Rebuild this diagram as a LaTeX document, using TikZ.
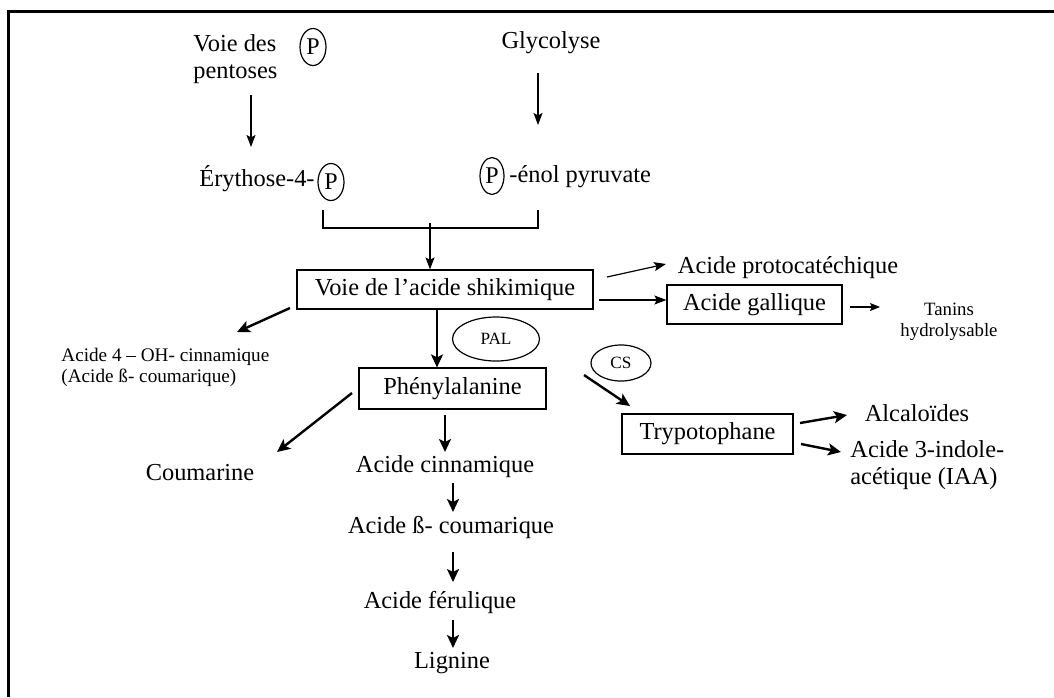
\documentclass[tikz,border=0pt]{standalone}
\usepackage{fontspec}
\setmainfont{Liberation Serif}
\usetikzlibrary{arrows.meta,shapes.geometric}
\begin{document}
\begin{tikzpicture}[x=0.5pt,y=-0.5pt,
  txt/.style={inner sep=0pt,font=\fontsize{12.2}{13.5}\selectfont},
  small/.style={inner sep=0pt,font=\fontsize{9.6}{10.5}\selectfont},
  boxnode/.style={draw,line width=0.6pt,inner sep=0pt,font=\fontsize{12.2}{13.5}\selectfont},
  pcirc/.style={draw,ellipse,line width=0.6pt,inner sep=0pt,minimum width=13pt,minimum height=18.5pt,font=\fontsize{12}{13}\selectfont},
  enz/.style={draw,ellipse,line width=0.6pt,inner sep=0pt,font=\fontsize{8.6}{10}\selectfont},
  thinarr/.style={line width=0.6pt,-{Stealth[length=6pt,width=4.5pt,inset=1.2pt]}},
  thickarr/.style={line width=1.2pt,-{Stealth[length=6.5pt,width=6pt,inset=1.5pt]}},
  frame/.style={line width=1.5pt}]
\useasboundingbox (0,0) rectangle (1054,697);
% frame
\coordinate (ftl) at (8,11);
\coordinate (ftr) at (1054,11);
\coordinate (fbl) at (8,697);
\draw[frame] (ftr) -- (ftl) -- (fbl);

% top part
\node[txt,align=left,anchor=west] (pent) at (193,59) {Voie des\\pentoses};
\node[pcirc] (p1) at (313,47) {P};
\node[txt] (glyc) at (551,43) {Glycolyse};
\node[txt,anchor=east] (ery) at (315,179) {Érythose-4-};
\node[pcirc] (p2) at (331,182) {P};
\node[pcirc,minimum width=12pt] (p3) at (492,176) {P};
\node[txt,anchor=west] (enol) at (509,177) {-énol pyruvate};

\coordinate (a1s) at (251,95);
\coordinate (a1e) at (251,147);
\draw[thinarr] (a1s) -- (a1e);
\coordinate (a2s) at (538,73);
\coordinate (a2e) at (538,125);
\draw[thinarr] (a2s) -- (a2e);

% bracket
\coordinate (bl) at (323,210);
\coordinate (br) at (538,210);
\coordinate (bm) at (430,228);
\coordinate (bt) at (430,223);
\draw[line width=0.6pt] (bl) -- (bl |- bm) -- (br |- bm) -- (br);

% shikimique
\node[boxnode,minimum width=148pt,minimum height=19.5pt] (shik) at (445,289.5) {Voie de l’acide shikimique};
\draw[thinarr] (bt) -- (bt |- shik.north);

\node[txt] (proto) at (788,268) {Acide protocatéchique};
\node[boxnode,minimum width=87.5pt,minimum height=19.5pt] (gall) at (754.5,304.5) {Acide gallique};
\node[small,align=center,font=\fontsize{9.4}{10.5}\selectfont] (tan) at (949,322) {Tanins\\hydrolysable};

\coordinate (a3s) at (607,277);
\coordinate (a3e) at (666,264);
\draw[thinarr] (a3s) -- (a3e);
\coordinate (a4s) at (599,300);
\draw[thinarr] (a4s) -- (a4s -| gall.west);
\coordinate (a5s) at (850,307);
\coordinate (a5e) at (880,307);
\draw[line width=0.6pt,-{Stealth[length=5pt,width=4pt,inset=1pt]}] (a5s) -- (a5e);

% left branch
\node[small,align=left,anchor=west] (c4) at (61,367) {Acide 4 – OH- cinnamique\\(Acide ß- coumarique)};
\coordinate (a6s) at (290,308);
\coordinate (a6e) at (237,332);
\draw[thickarr] (a6s) -- (a6e);

% PAL and phenylalanine
\node[enz,minimum width=43.5pt,minimum height=22pt] (pal) at (496,339) {PAL};
\node[boxnode,minimum width=93.5pt,minimum height=20.5pt] (phe) at (452.5,388.5) {Phénylalanine};
\coordinate (a7s) at (437,309);
\draw[thickarr] (a7s) -- (a7s |- phe.north);

% CS and tryptophane
\node[enz,minimum width=30pt,minimum height=18pt] (cs) at (621,363) {CS};
\node[boxnode,minimum width=85.5pt,minimum height=20pt] (tryp) at (707.5,434) {Trypotophane};
\coordinate (a8s) at (584,375);
\coordinate (a8e) at (630,406);
\draw[thickarr] (a8s) -- (a8e);

\node[txt] (alc) at (917,413) {Alcaloïdes};
\node[txt,align=left,anchor=west] (iaa) at (850,465) {Acide 3-indole-\\acétique (IAA)};
\coordinate (a9s) at (800,423);
\coordinate (a9e) at (847,415);
\draw[thickarr] (a9s) -- (a9e);
\coordinate (a10s) at (801,444);
\coordinate (a10e) at (841,452);
\draw[thickarr] (a10s) -- (a10e);

% coumarine
\node[txt] (coum) at (200,473) {Coumarine};
\coordinate (a11s) at (352,393);
\coordinate (a11e) at (277,452);
\draw[thickarr] (a11s) -- (a11e);

% main chain
\node[txt] (cin) at (445,467) {Acide cinnamique};
\node[txt] (bcou) at (451,527) {Acide ß- coumarique};
\node[txt] (fer) at (440,602) {Acide férulique};
\node[txt] (lig) at (452,663) {Lignine};

\coordinate (c1s) at (445,415);
\coordinate (c1e) at (445,452);
\draw[thickarr] (c1s) -- (c1e);
\coordinate (c2s) at (453,483);
\coordinate (c2e) at (453,512);
\draw[thickarr] (c2s) -- (c2e);
\coordinate (c3s) at (453,552);
\coordinate (c3e) at (453,582);
\draw[thickarr] (c3s) -- (c3e);
\coordinate (c4s) at (453,620);
\coordinate (c4e) at (453,648);
\draw[thickarr] (c4s) -- (c4e);
\end{tikzpicture}
\end{document}
